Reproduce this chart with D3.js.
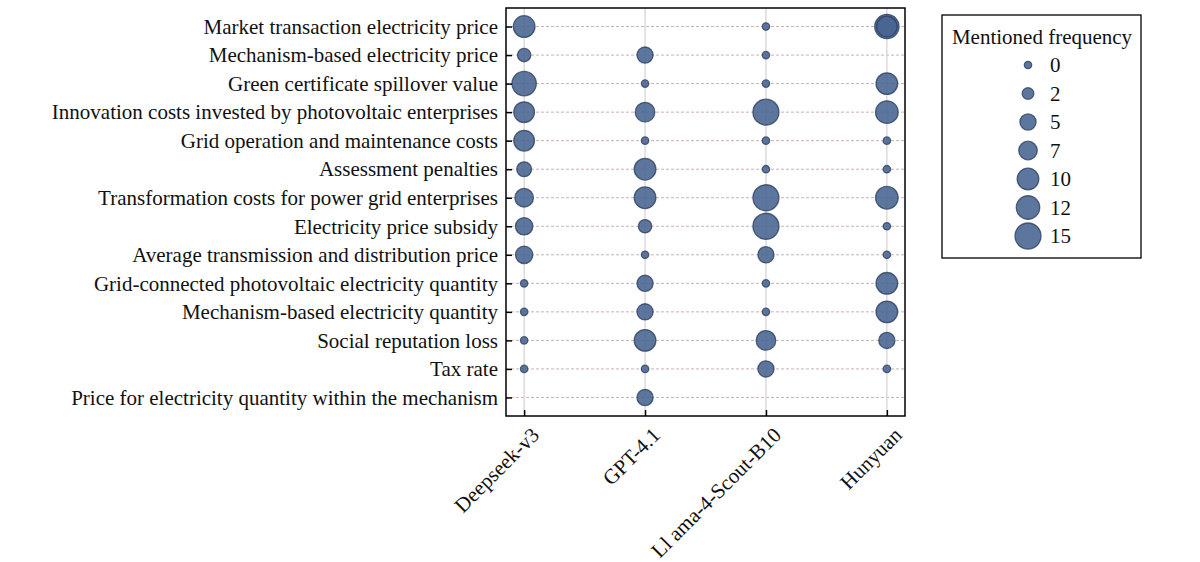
<!DOCTYPE html>
<html>
<head>
<meta charset="utf-8">
<script src="https://cdn.jsdelivr.net/npm/d3@7"></script>
<style>
  body { margin: 0; background: #fff; }
  svg text { font-family: "Liberation Serif", "Times New Roman", serif; fill: #111; }
</style>
</head>
<body>
<div id="chart"></div>
<script>
// categories
const terms = [
    "Market transaction electricity price",
    "Mechanism-based electricity price",
    "Green certificate spillover value",
    "Innovation costs invested by photovoltaic enterprises",
    "Grid operation and maintenance costs",
    "Assessment penalties",
    "Transformation costs for power grid enterprises",
    "Electricity price subsidy",
    "Average transmission and distribution price",
    "Grid-connected photovoltaic electricity quantity",
    "Mechanism-based electricity quantity",
    "Social reputation loss",
    "Tax rate",
    "Price for electricity quantity within the mechanism"
];
const models = ["Deepseek-v3", "GPT-4.1", "Ll ama-4-Scout-B10", "Hunyuan"];

// mentioned frequency per model (null = no bubble)
const deepseek = [10, 3, 13, 9, 9, 4, 7, 6, 6, 0, 0, 0, 0, null];
const gpt      = [null, 5, 0, 8, 0, 10, 10, 3, 0, 5, 5, 10, 0, 5];
const llama    = [0, 0, 0, 15, 0, 0, 15, 15, 5, 0, 0, 8, 5, null];
const hunyuan  = [13, null, 10, 11, 0, 0, 11, 0, 0, 10, 10, 5, 0, null];

// a second, overlapping bubble in the Hunyuan / market price cell
const extraPoints = [{term: "Market transaction electricity price", model: "Hunyuan", value: 9}];

const legendValues = [0, 2, 5, 7, 10, 12, 15];

let series = [deepseek, gpt, llama, hunyuan];
let points = [];
series.forEach(function (vals, i) {
    vals.forEach(function (v, j) {
        if (v !== null) points.push({term: terms[j], model: models[i], value: v});
    });
});
points = points.concat(extraPoints);

let margin = {top: 8, left: 506};
let width = 399, height = 408;

let svg = d3.select("#chart").append("svg")
    .attr("width", 1200)
    .attr("height", 562);

let g = svg.append("g")
    .attr("transform", "translate(" + margin.left + "," + margin.top + ")");

let x = d3.scalePoint().domain(models).range([0, width]).padding(0.15);
let y = d3.scalePoint().domain(terms).range([0, height]).padding(0.65);
let r = d3.scaleRadial().domain([0, 15]).range([3.7, 13]);

// grid
g.append("g").selectAll("line")
    .data(terms).enter().append("line")
    .attr("x1", 0).attr("x2", width)
    .attr("y1", d => y(d)).attr("y2", d => y(d))
    .attr("stroke", "#cdb0b2")
    .attr("stroke-width", 1)
    .attr("stroke-dasharray", "3,2");

g.append("g").selectAll("line")
    .data(models).enter().append("line")
    .attr("y1", 0).attr("y2", height)
    .attr("x1", d => x(d)).attr("x2", d => x(d))
    .attr("stroke", "#d9cfd0")
    .attr("stroke-width", 1.2);

// bubbles
g.append("g").selectAll("circle")
    .data(points).enter().append("circle")
    .attr("cx", d => x(d.model))
    .attr("cy", d => y(d.term))
    .attr("r", d => r(d.value))
    .attr("fill", "#47638f")
    .attr("fill-opacity", 0.88)
    .attr("stroke", "#283b5c")
    .attr("stroke-opacity", 0.75)
    .attr("stroke-width", 1.3);

// axes (ticks point inward)
let yAxis = d3.axisLeft(y).tickSize(-6).tickPadding(8);
let xAxis = d3.axisBottom(x).tickSize(-6).tickFormat("");

let yg = g.append("g").call(yAxis);
yg.select(".domain").remove();
yg.selectAll("line").attr("stroke", "#000").attr("stroke-width", 1.5);
yg.selectAll("text").attr("font-size", "21px")
    .style("font-family", "'Liberation Serif', serif").attr("fill", "#111");

let xg = g.append("g").attr("transform", "translate(0," + height + ")").call(xAxis);
xg.select(".domain").remove();
xg.selectAll("line").attr("stroke", "#000").attr("stroke-width", 1.5);

g.append("g").selectAll("text")
    .data(models).enter().append("text")
    .attr("transform", d => "translate(" + (x(d) + 6) + "," + (height + 10) + ") rotate(-45)")
    .attr("text-anchor", "end")
    .attr("dy", "0.7em")
    .attr("font-size", "21px")
    .text(d => d);

// frame
g.append("rect")
    .attr("width", width).attr("height", height)
    .attr("fill", "none")
    .attr("stroke", "#000")
    .attr("stroke-width", 1.5);

// legend
let legend = svg.append("g").attr("transform", "translate(942,15)");
legend.append("rect")
    .attr("width", 199).attr("height", 243)
    .attr("fill", "#fff")
    .attr("stroke", "#000")
    .attr("stroke-width", 1.3);
legend.append("text")
    .attr("x", 100).attr("y", 29)
    .attr("text-anchor", "middle")
    .attr("font-size", "21px")
    .text("Mentioned frequency");

let ly = d3.scalePoint().domain(legendValues).range([50, 221]);
let items = legend.selectAll(".item")
    .data(legendValues).enter().append("g")
    .attr("transform", d => "translate(0," + ly(d) + ")");
items.append("circle")
    .attr("cx", 86)
    .attr("r", d => r(d))
    .attr("fill", "#47638f")
    .attr("fill-opacity", 0.88)
    .attr("stroke", "#283b5c")
    .attr("stroke-opacity", 0.75)
    .attr("stroke-width", 1.3);
items.append("text")
    .attr("x", 108)
    .attr("dy", "0.35em")
    .attr("font-size", "21px")
    .text(d => d);
</script>
</body>
</html>
